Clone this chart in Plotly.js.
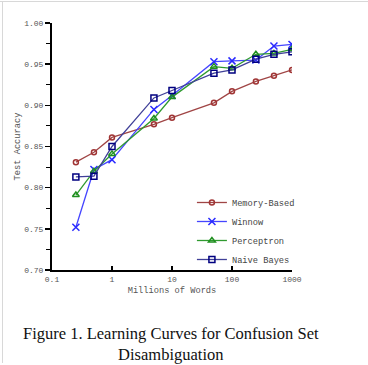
<!DOCTYPE html>
<html>
<head>
<meta charset="utf-8">
<script src="https://cdn.plot.ly/plotly-3.0.1.min.js"></script>
<style>
  html, body { margin: 0; padding: 0; background: #fff; }
  #wrap { position: relative; width: 368px; height: 365px; }
  #chart { position: absolute; left: 0; top: 0; width: 368px; height: 365px; }
  .bt { position: absolute; left: 0; top: 1px; width: 368px; height: 1px; background: #d8d8d8; }
  .bl { position: absolute; left: 2px; top: 1px; width: 1px; height: 362px; background: #d8d8d8; }
</style>
</head>
<body>
<div id="wrap">
  <div id="chart"></div>
  <div class="bt"></div>
  <div class="bl"></div>
</div>
<script>
const millionsOfWords = [0.25, 0.5, 1, 5, 10, 50, 100, 250, 500, 1000];
const memoryBased = [0.831, 0.843, 0.861, 0.877, 0.885, 0.903, 0.917, 0.929, 0.936, 0.943];
const winnow      = [0.752, 0.822, 0.834, 0.895, 0.912, 0.953, 0.954, 0.955, 0.972, 0.974];
const perceptron  = [0.791, 0.820, 0.841, 0.884, 0.910, 0.947, 0.945, 0.962, 0.963, 0.968];
const naiveBayes  = [0.813, 0.814, 0.850, 0.909, 0.918, 0.939, 0.943, 0.956, 0.962, 0.965];
const xTickVals = [0.1, 1, 10, 100, 1000];
const xTickText = ['0.1', '1', '10', '100', '1000'];
const seriesNames = ['Memory-Based', 'Winnow', 'Perceptron', 'Naive Bayes'];

const mono = "'Liberation Mono', 'Courier New', monospace";

function tr(name, y, color, lineColor, symbol, size) {
  return {
    x: millionsOfWords, y: y, name: name, type: 'scatter', mode: 'lines+markers',
    line: { color: lineColor, width: 1.3 },
    marker: { symbol: symbol, size: size, color: color, line: { color: color, width: 1.5 } }
  };
}

const data = [
  tr(seriesNames[0], memoryBased, '#a03535', '#a04545', 'circle-open', 5),
  tr(seriesNames[1], winnow, '#2a2aff', '#4545ff', 'x-thin-open', 7),
  tr(seriesNames[2], perceptron, '#1f8f1f', '#2f9a2f', 'triangle-up-open', 6),
  tr(seriesNames[3], naiveBayes, '#000080', '#404098', 'square-open', 6)
];

const layout = {
  width: 368, height: 365,
  margin: { l: 52, r: 76, t: 23, b: 95 },
  paper_bgcolor: '#fff', plot_bgcolor: '#fff',
  showlegend: true,
  legend: {
    x: 0.583, y: 0.332, xanchor: 'left', yanchor: 'top',
    bgcolor: 'rgba(0,0,0,0)', itemwidth: 30,
    font: { family: mono, size: 8.7, color: '#444' },
    tracegroupgap: 0
  },
  xaxis: {
    type: 'log', range: [-1, 3],
    tickvals: xTickVals, ticktext: xTickText,
    ticks: 'inside', ticklen: 4, tickwidth: 1.5, tickcolor: '#000',
    showline: true, linecolor: '#000', linewidth: 2,
    showgrid: false, zeroline: false,
    tickfont: { family: mono, size: 8, color: '#555' },
    title: { text: 'Millions of Words', font: { family: mono, size: 8.7, color: '#555' }, standoff: 4 }
  },
  yaxis: {
    range: [0.70, 1.00], dtick: 0.05, tick0: 0.70, tickformat: '.2f',
    ticks: 'outside', ticklen: 5, tickwidth: 1.5, tickcolor: '#000',
    minor: { dtick: 0.025, ticks: 'outside', ticklen: 4, tickwidth: 1, tickcolor: '#000' },
    showline: true, linecolor: '#000', linewidth: 2,
    showgrid: false, zeroline: false,
    tickfont: { family: mono, size: 8, color: '#555' },
    title: { text: 'Test Accuracy', font: { family: mono, size: 8.7, color: '#555' }, standoff: 2 }
  },
  annotations: [{
    xref: 'paper', yref: 'paper', x: 0.496, y: -0.21, xanchor: 'center', yanchor: 'top',
    text: 'Figure 1. Learning Curves for Confusion Set<br>Disambiguation',
    showarrow: false, align: 'center',
    font: { family: "'Liberation Serif', 'Times New Roman', serif", size: 16.5, color: '#111' }
  }]
};

Plotly.newPlot('chart', data, layout, { displayModeBar: false, staticPlot: true });
</script>
</body>
</html>
